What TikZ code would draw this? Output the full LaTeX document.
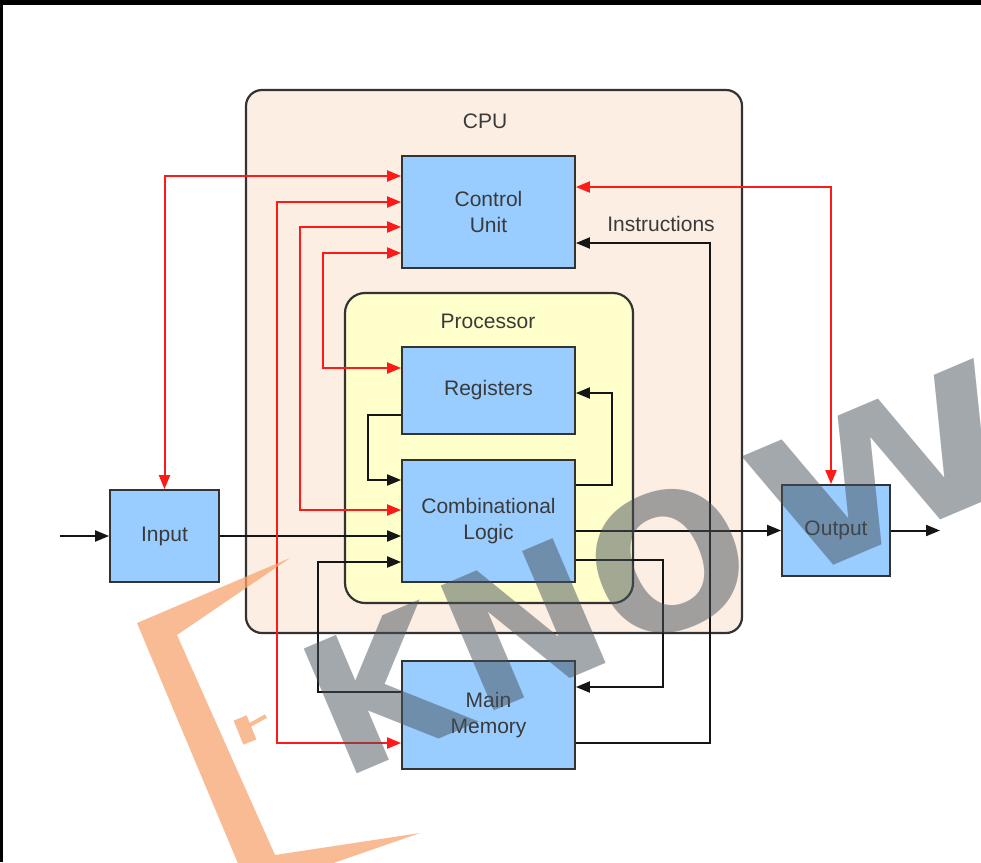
\documentclass[tikz,border=0pt]{standalone}
\usepackage{fontspec}
\setmainfont{Liberation Sans}
\newfontfamily\wmfont{DejaVu Sans}
\usetikzlibrary{arrows.meta,calc}
\definecolor{cpufill}{HTML}{FDEEE3}
\definecolor{procfill}{HTML}{FFFFCC}
\definecolor{boxfill}{HTML}{99CCFF}
\definecolor{edgecol}{HTML}{333333}
\definecolor{txtcol}{HTML}{3A3A3A}
\definecolor{wirecol}{HTML}{151515}
\definecolor{redcol}{HTML}{FF1A1A}
\definecolor{wmgray}{HTML}{46525A}
\definecolor{wmorange}{HTML}{F7A56F}
\begin{document}
\begin{tikzpicture}[x=1pt,y=-1pt,
  >={Triangle[length=14pt,width=11pt]},
  unitbox/.style={draw=edgecol,fill=boxfill,line width=1.8pt,minimum width=173pt,
    inner sep=0pt,align=center,text=txtcol,font=\fontsize{21}{26}\selectfont},
  container/.style={draw=edgecol,line width=2.2pt,rounded corners=16pt,inner sep=0pt},
  lbl/.style={text=txtcol,font=\fontsize{21}{26}\selectfont,inner sep=0pt},
  wire/.style={draw=wirecol,line width=2pt,->},
  redwire/.style={draw=redcol,line width=2pt,<->},
  wmark/.style={text=wmgray,text opacity=0.5,inner sep=0pt,rotate=23,
    font=\wmfont\bfseries\fontsize{186}{186}\selectfont}]
\useasboundingbox (0,0) rectangle (981,862);
\clip (0,0) rectangle (981,862);
\fill[white] (0,0) rectangle (981,862);
\fill[black] (0,0) rectangle (981,5);
\fill[black] (0,0) rectangle (3,862);

% containers
\node[container,fill=cpufill,minimum width=496pt,minimum height=543pt] (cpu) at (494,361.5) {};
\node[lbl] (cpulbl) at (485,121) {CPU};
\node[container,fill=procfill,minimum width=288pt,minimum height=310pt,rounded corners=20pt] (proc) at (489,448) {};
\node[lbl] (proclbl) at (488,321) {Processor};

% units
\node[unitbox,minimum height=112pt] (cu) at (488.5,212) {Control\\Unit};
\node[unitbox,minimum height=87pt] (reg) at (488.5,390.5) {Registers};
\node[unitbox,minimum height=122pt] (cl) at (488.5,521) {Combinational\\Logic};
\node[unitbox,minimum height=108pt] (mm) at (488.5,715) {Main\\Memory};
\node[unitbox,minimum width=109pt,minimum height=92pt] (in) at (164.5,536) {Input};
\node[unitbox,minimum width=108pt,minimum height=91pt] (out) at (836,530.5) {Output};
\node[lbl] (instr) at (661,224) {Instructions};

\coordinate (extin) at (60,536);
\coordinate (extout) at (940,530.5);

% black data wires
\draw[wire] (extin) -- (in.west);
\draw[wire] (in.east) -- (in.east -| cl.west);
\draw[wire] (mm.west |- 0,692) -- (318,692) |- (cl.west |- 0,562);
\draw[wire] (reg.west |- 0,415) -- (368,415) |- (cl.west |- 0,480);
\draw[wire] (cl.east |- 0,485) -- (612,485) |- (reg.east |- 0,393);
\draw[wire] (out.west -| cl.east) -- (out.west);
\draw[wire] (out.east) -- (extout);
\draw[wire] (cl.east |- 0,560) -- (663,560) |- (mm.east |- 0,687);
\draw[wire] (mm.east |- 0,743) -- (710,743) |- (cu.east |- 0,243);

% red control wires
\draw[redwire] (in.north) |- (cu.west |- 0,176);
\draw[redwire] (cu.west |- 0,202) -- (277,202) |- (mm.west |- 0,743);
\draw[redwire] (cu.west |- 0,227) -- (300,227) |- (cl.west |- 0,510);
\draw[redwire] (cu.west |- 0,253) -- (323,253) |- (reg.west |- 0,368);
\draw[redwire] (cu.east |- 0,187) -| (out.north -| 831,0);

% watermark
\fill[wmorange,opacity=0.75] (290,558) -- (137,623) -- (250,892) -- (420,833) -- (275,855) -- (177,635) -- cycle;
\fill[wmorange,opacity=0.75,rotate around={22:(245,730)}] (238,717) rectangle (252,743);
\draw[wmorange,opacity=0.75,line width=4pt] (250,725) -- (266,716);
\node[wmark] (wmk) at (381,690) {K};
\node[wmark] (wmn) at (524,625) {N};
\node[wmark] (wmo) at (668,561) {O};
\node[wmark,xscale=1.3] (wmw) at (885,470) {W};
\end{tikzpicture}
\end{document}
